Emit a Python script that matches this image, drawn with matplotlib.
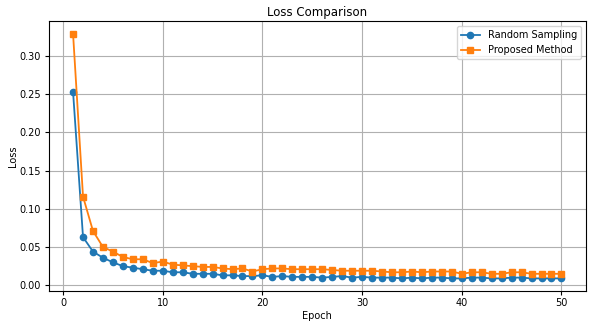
import matplotlib.pyplot as plt

# значения потерь по эпохам
epochs = list(range(1, 51))
random_loss = [0.253, 0.063, 0.044, 0.036, 0.030, 0.025, 0.023, 0.021, 0.019, 0.019,
               0.017, 0.017, 0.015, 0.015, 0.015, 0.013, 0.013, 0.012, 0.012, 0.013,
               0.011, 0.012, 0.011, 0.011, 0.011, 0.010, 0.011, 0.012, 0.010, 0.011,
               0.010, 0.010, 0.010, 0.009, 0.010, 0.009, 0.010, 0.010, 0.009, 0.009,
               0.010, 0.010, 0.009, 0.009, 0.010, 0.010, 0.009, 0.009, 0.009, 0.009]
proposed_loss = [0.329, 0.116, 0.071, 0.050, 0.044, 0.037, 0.034, 0.034, 0.029, 0.031,
                 0.027, 0.026, 0.025, 0.024, 0.024, 0.022, 0.021, 0.022, 0.018, 0.021,
                 0.022, 0.022, 0.021, 0.021, 0.021, 0.021, 0.020, 0.019, 0.019, 0.019,
                 0.019, 0.018, 0.017, 0.017, 0.018, 0.017, 0.018, 0.018, 0.018, 0.015,
                 0.017, 0.017, 0.015, 0.015, 0.017, 0.017, 0.015, 0.015, 0.015, 0.015]

fig, ax = plt.subplots(figsize=(5.93, 3.24), dpi=100)
ax.plot(epochs, random_loss, marker="o", markersize=4.5, linewidth=1.3, label="Random Sampling")
ax.plot(epochs, proposed_loss, marker="s", markersize=4.5, linewidth=1.3, label="Proposed Method")
ax.set_title("Loss Comparison", fontsize=8.5, pad=4)
ax.set_xlabel("Epoch", fontsize=7, labelpad=2)
ax.set_ylabel("Loss", fontsize=7, labelpad=1)
ax.tick_params(labelsize=7, length=3, pad=2.5)
ax.legend(fontsize=7)
ax.grid()
plt.subplots_adjust(left=0.082, right=0.988, top=0.934, bottom=0.103)
plt.savefig("out.png")
